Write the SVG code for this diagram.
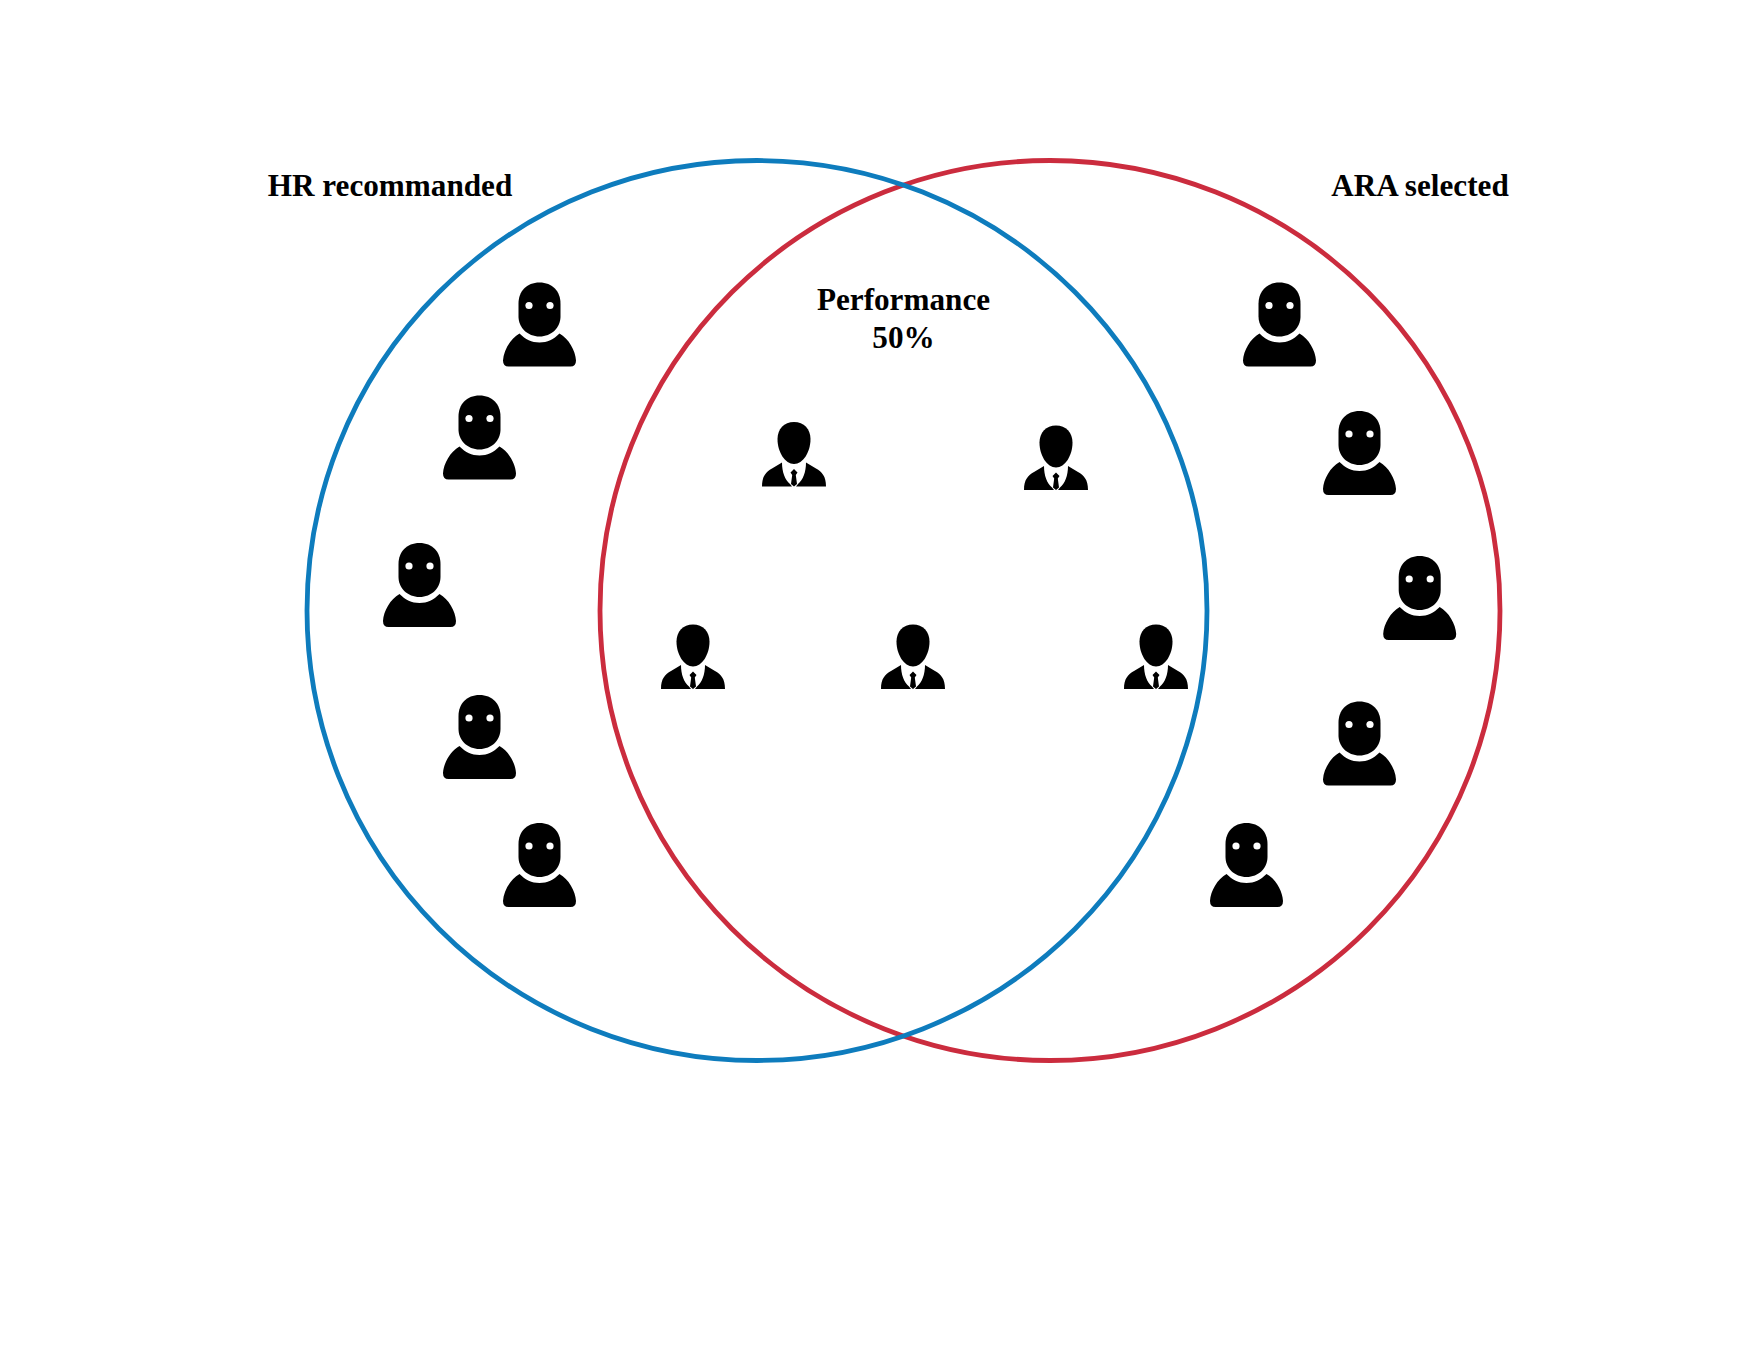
<svg xmlns="http://www.w3.org/2000/svg" width="1760" height="1360" viewBox="0 0 1760 1360">
<style>
text{font-family:"Liberation Serif","Times New Roman",serif;font-weight:700;font-size:31.200px;fill:#000;text-anchor:middle}
.ring{fill:none;stroke-width:4.800}
</style>
<defs>
<g id="person">
<path d="M0 0C13 0 21 9 21 21V34C21 45 12 54 0 54C-12 54-21 45-21 34V21C-21 9-13 0 0 0Z"/>
<circle cx="-10.500" cy="23" r="3.600" fill="#fff"/><circle cx="10.500" cy="23" r="3.600" fill="#fff"/>
<path d="M-20 51C-14 57-8 60 0 60C8 60 14 57 20 51C29 56 36 68 36.500 78Q36.500 84 31 84H-31Q-36.500 84-36.500 78C-36 68-29 56-20 51Z"/>
</g>
<g id="manager">
<path d="M0 0C10 0 16.500 7 16.500 17C16.500 30 9 42 0 42C-9 42-16.500 30-16.500 17C-16.500 7-10 0 0 0Z"/>
<path d="M-12 40.500C-12 50-9 58-4 62L-2 64.500H-32C-32 54-28 50-22 46.500Z"/>
<path d="M12 40.500C12 50 9 58 4 62L2 64.500H32C32 54 28 50 22 46.500Z"/>
<path d="M0 47L3.500 50.500L1.800 53L3 62L0 64.500L-3 62L-1.800 53L-3.500 50.500Z"/>
</g>
</defs>
<g id="connectors">
<circle id="ara-circle" class="ring" cx="1050" cy="610.500" r="450" stroke="#cb2c3e"/>
<circle id="hr-circle" class="ring" cx="757" cy="610.500" r="450" stroke="#0e7cbd"/>
</g>
<g id="label-hr"><text x="390" y="196">HR recommanded</text></g>
<g id="label-ara"><text x="1420" y="196">ARA selected</text></g>
<g id="label-perf"><text x="903.500" y="310">Performance</text><text x="903.500" y="348">50%</text></g>
<g id="hr-1"><use href="#person" x="539.500" y="282.500"/></g>
<g id="hr-2"><use href="#person" x="479.500" y="395.500"/></g>
<g id="hr-3"><use href="#person" x="419.500" y="543"/></g>
<g id="hr-4"><use href="#person" x="479.500" y="695"/></g>
<g id="hr-5"><use href="#person" x="539.500" y="823"/></g>
<g id="ara-1"><use href="#person" x="1279.500" y="282.500"/></g>
<g id="ara-2"><use href="#person" x="1359.500" y="411"/></g>
<g id="ara-3"><use href="#person" x="1419.700" y="556"/></g>
<g id="ara-4"><use href="#person" x="1359.500" y="701.500"/></g>
<g id="ara-5"><use href="#person" x="1246.500" y="823"/></g>
<g id="both-1"><use href="#manager" x="794" y="422"/></g>
<g id="both-2"><use href="#manager" x="1056" y="425.500"/></g>
<g id="both-3"><use href="#manager" x="693" y="624.500"/></g>
<g id="both-4"><use href="#manager" x="913" y="624.500"/></g>
<g id="both-5"><use href="#manager" x="1156" y="624.500"/></g>
</svg>
